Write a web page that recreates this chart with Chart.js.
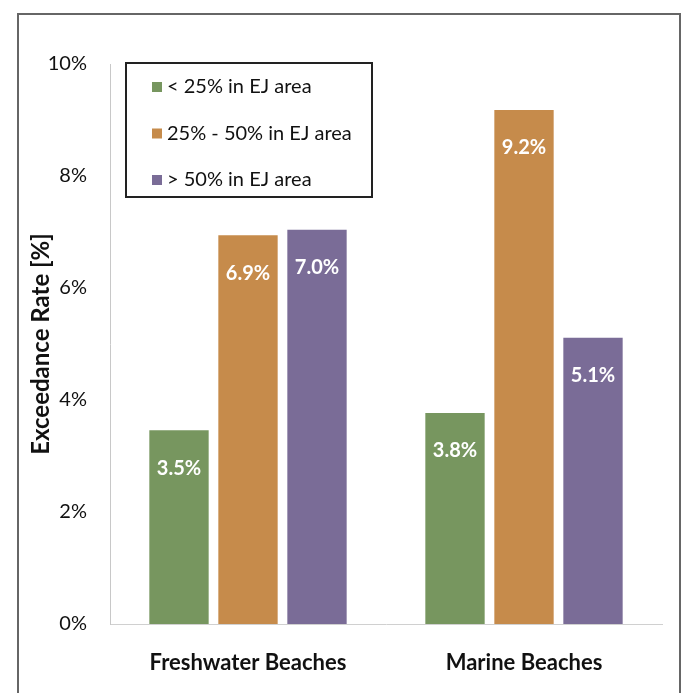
<!DOCTYPE html>
<html>
<head>
<meta charset="utf-8">
<script src="https://cdn.jsdelivr.net/npm/chart.js@4.4.1/dist/chart.umd.min.js"></script>
<style>
    html, body { margin: 0; padding: 0; background: #fff; }
    #wrap { position: relative; width: 684px; height: 693px; overflow: hidden; }
    #frame { position: absolute; left: 17px; top: 13px; width: 660px; height: 700px;
             border: 2px solid #666; pointer-events: none; }
</style>
</head>
<body>
<div id="wrap">
    <canvas id="chart" width="684" height="693"></canvas>
    <div id="frame"></div>
</div>
<script>
const categories = ["Freshwater Beaches", "Marine Beaches"];
const seriesNames = ["< 25% in EJ area", "25% - 50% in EJ area", "> 50% in EJ area"];
const lowEJ = [3.46, 3.77];
const midEJ = [6.94, 9.18];
const highEJ = [7.04, 5.11];
const yTicks = [0, 2, 4, 6, 8, 10];
const colors = ["#77965f", "#c68b4b", "#7a6c97"];

const FONT = "Lato, 'Open Sans', sans-serif";

// white value labels inside the top of every bar
const barLabels = {
    id: "barLabels",
    afterDatasetsDraw(chart) {
        const ctx = chart.ctx;
        ctx.save();
        ctx.fillStyle = "#fff";
        ctx.font = "bold 20px " + FONT;
        ctx.textAlign = "center";
        ctx.textBaseline = "middle";
        chart.data.datasets.forEach((ds, i) => {
            chart.getDatasetMeta(i).data.forEach((bar, j) => {
                ctx.fillText(ds.data[j].toFixed(1) + "%", bar.x, bar.y + 38);
            });
        });
        ctx.restore();
    }
};

// boxed legend sitting inside the plot, top left
const boxLegend = {
    id: "boxLegend",
    afterDraw(chart) {
        const ctx = chart.ctx;
        const left = 126, top = 63, w = 246, h = 134;
        ctx.save();
        ctx.fillStyle = "#fff";
        ctx.fillRect(left, top, w, h);
        ctx.strokeStyle = "#222";
        ctx.lineWidth = 2;
        ctx.strokeRect(left, top, w, h);
        ctx.font = "20px " + FONT;
        ctx.textBaseline = "middle";
        chart.data.datasets.forEach((ds, i) => {
            const y = 87 + i * 46.5;
            ctx.fillStyle = ds.backgroundColor;
            ctx.fillRect(152, y - 5, 10, 10);
            ctx.fillStyle = "#111";
            ctx.fillText(ds.label, 167, y);
        });
        ctx.restore();
    }
};

new Chart(document.getElementById("chart"), {
    type: "bar",
    data: {
        labels: categories,
        datasets: [
            { label: seriesNames[0], data: lowEJ, backgroundColor: colors[0] },
            { label: seriesNames[1], data: midEJ, backgroundColor: colors[1] },
            { label: seriesNames[2], data: highEJ, backgroundColor: colors[2] }
        ]
    },
    options: {
        responsive: false,
        animation: false,
        layout: { padding: { top: 64, right: 22, left: 27, bottom: 0 } },
        datasets: { bar: { categoryPercentage: 0.75, barPercentage: 0.86 } },
        plugins: {
            legend: { display: false },
            tooltip: { enabled: false }
        },
        scales: {
            x: {
                grid: { display: false },
                border: { color: "#d0d0d0", width: 1 },
                ticks: { color: "#111", font: { family: FONT, size: 22, weight: "bold" }, padding: 18 },
                afterFit(scale) { scale.height = 69; }
            },
            y: {
                min: 0,
                max: 10,
                afterBuildTicks(scale) { scale.ticks = yTicks.map(v => ({ value: v })); },
                grid: { display: false },
                border: { color: "#c8c8c8", width: 1 },
                ticks: {
                    color: "#111",
                    padding: 15,
                    font: { family: FONT, size: 20 },
                    callback: v => v + "%"
                },
                title: {
                    display: true,
                    text: "Exceedance Rate [%]",
                    color: "#111",
                    font: { family: FONT, size: 24, weight: "bold" },
                    padding: 0
                },
                afterFit(scale) { scale.width = 83; }
            }
        }
    },
    plugins: [barLabels, boxLegend]
});
</script>
</body>
</html>
